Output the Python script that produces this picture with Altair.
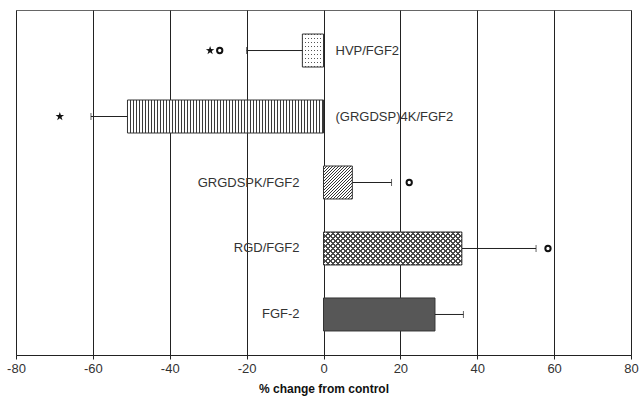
import altair as alt
import pandas as pd

# ---- data ----
categories = ["HVP/FGF2", "(GRGDSP)4K/FGF2", "GRGDSPK/FGF2", "RGD/FGF2", "FGF-2"]
values = [-5.5, -51.0, 7.5, 36.0, 29.0]
error_ends = [-20.0, -60.5, 17.7, 55.3, 36.4]

star_cats = ["HVP/FGF2", "(GRGDSP)4K/FGF2"]
star_x = [-29.5, -68.6]
ring_cats = ["HVP/FGF2", "GRGDSPK/FGF2", "RGD/FGF2"]
ring_x = [-27.0, 22.3, 58.4]

x_ticks = [-80, -60, -40, -20, 0, 20, 40, 60, 80]

df = pd.DataFrame({"cat": categories, "value": values, "err": error_ends})
stars = pd.DataFrame({"cat": star_cats, "x": star_x})
rings = pd.DataFrame({"cat": ring_cats, "x": ring_x})

# ---- styling helpers (fill patterns drawn with hard-stop gradients) ----
W, H = 615, 345
PX = W / 160.0
BAR_H = 33.0
FONT = "Liberation Sans"
INK = "#222222"


def stripe_stops(span, period, lw, on, off):
    """Hard-edged stripes every `period` px, `lw` px wide, along a span of `span` px."""
    s = []
    pos = 0.0
    while pos < span - 1e-9:
        a = pos / span
        b = min((pos + lw) / span, 1.0)
        c = min((pos + period) / span, 1.0)
        s += [{"offset": a, "color": on}, {"offset": b, "color": on},
              {"offset": b, "color": off}, {"offset": c, "color": off}]
        pos += period
    return s


def grad(stops, x1, y1, x2, y2):
    return {"gradient": "linear", "stops": stops, "x1": x1, "y1": y1, "x2": x2, "y2": y2}


def diag_vec(width_px, height_px):
    k = (width_px + height_px) / (width_px ** 2 + height_px ** 2)
    return width_px * k, height_px * k


x_scale = alt.Scale(domain=[-80, 80], nice=False, zero=False)
y_scale = alt.Scale(domain=categories, paddingInner=0.5, paddingOuter=0.364)

base = alt.Chart(df)
X = alt.X("value:Q", scale=x_scale,
          axis=alt.Axis(values=x_ticks, grid=True, gridColor=INK, gridWidth=1,
                        domainColor=INK, tickColor=INK, tickSize=4,
                        labelFont=FONT, labelFontSize=13, labelColor="#333333",
                        labelPadding=3, labelFlush=False, labelOverlap=False,
                        labelExpr="'' + datum.value",
                        title="% change from control", titleFont=FONT,
                        titleFontSize=12, titleFontWeight="bold", titleColor="#111111",
                        titlePadding=8))
Y = alt.Y("cat:N", scale=y_scale, axis=None)


def bar_layer(cat, fill, stroke=True):
    kw = dict(fill=fill)
    if stroke:
        kw.update(stroke="#333333", strokeWidth=1)
    else:
        kw.update(strokeWidth=0)
    return base.transform_filter(alt.datum.cat == cat).mark_bar(**kw).encode(x=X, y=Y)


CLEAR = "rgba(255,255,255,0)"

# HVP: dotted (dark rows masked by white columns)
hvp_w = abs(values[0]) * PX
hvp_base = bar_layer("HVP/FGF2", grad(stripe_stops(BAR_H, 4, 1, "#555555", "#ffffff"), 0, 0, 0, 1),
                     stroke=False)
hvp_top = bar_layer("HVP/FGF2", grad(stripe_stops(hvp_w, 3, 1, CLEAR, "#ffffff"), 0, 0, 1, 0))

# (GRGDSP)4K: vertical stripes
g4_w = abs(values[1]) * PX
g4 = bar_layer("(GRGDSP)4K/FGF2", grad(stripe_stops(g4_w, 3, 1, "#3a3a3a", "#ffffff"), 0, 0, 1, 0))

# GRGDSPK: diagonal hatch ///
gk_w = abs(values[2]) * PX
gx, gy = diag_vec(gk_w, BAR_H)
gk = bar_layer("GRGDSPK/FGF2", grad(stripe_stops(gk_w + BAR_H, 3, 1, "#333333", "#ffffff"),
                                    0, 0, gx, gy))

# RGD: cross hatch (/// under \\\)
rg_w = abs(values[3]) * PX
rx, ry = diag_vec(rg_w, BAR_H)
rg_base = bar_layer("RGD/FGF2", grad(stripe_stops(rg_w + BAR_H, 5, 2, "#4a4a4a", "#ffffff"),
                                     0, 0, rx, ry), stroke=False)
rg_top = bar_layer("RGD/FGF2", grad(stripe_stops(rg_w + BAR_H, 5, 2, "#4a4a4a", CLEAR),
                                    0, 1, rx, 1 - ry))

# FGF-2: solid dark gray
fgf = bar_layer("FGF-2", "#575757")

err_rule = base.mark_rule(color=INK, strokeWidth=1).encode(x="value:Q", x2="err:Q", y=Y)
err_cap = base.mark_tick(color=INK, thickness=1, size=7, orient="vertical").encode(x="err:Q", y=Y)

label_neg = base.transform_filter(alt.datum.value < 0).mark_text(
    align="left", baseline="middle", dx=12, font=FONT, fontSize=13, color="#333333"
).encode(x=alt.datum(0), y=Y, text="cat:N")
label_pos = base.transform_filter(alt.datum.value >= 0).mark_text(
    align="right", baseline="middle", dx=-24, font=FONT, fontSize=13, color="#333333"
).encode(x=alt.datum(0), y=Y, text="cat:N")

star_path = ("M0,-1L0.23,-0.32L0.95,-0.31L0.37,0.12L0.59,0.81L0,0.4L-0.59,0.81"
             "L-0.37,0.12L-0.95,-0.31L-0.23,-0.32Z")
star_layer = alt.Chart(stars).mark_point(shape=star_path, filled=True, color="#111111", size=80,
                                         opacity=1).encode(
    x=alt.X("x:Q", scale=x_scale), y=alt.Y("cat:N", scale=y_scale, axis=None))
ring_layer = alt.Chart(rings).mark_point(shape="circle", filled=False, color="#111111", size=28,
                                         strokeWidth=2, opacity=1).encode(
    x=alt.X("x:Q", scale=x_scale), y=alt.Y("cat:N", scale=y_scale, axis=None))

chart = alt.layer(
    hvp_base, hvp_top, g4, gk, rg_base, rg_top, fgf,
    err_rule, err_cap, label_neg, label_pos, star_layer, ring_layer
).properties(
    width=W, height=H, autosize="none",
    padding={"left": 16, "top": 10, "right": 11, "bottom": 53},
    background="#ffffff"
).configure_view(stroke="#666666", strokeWidth=1)

chart.save("out.html", embed_options={"renderer": "svg", "actions": False})
